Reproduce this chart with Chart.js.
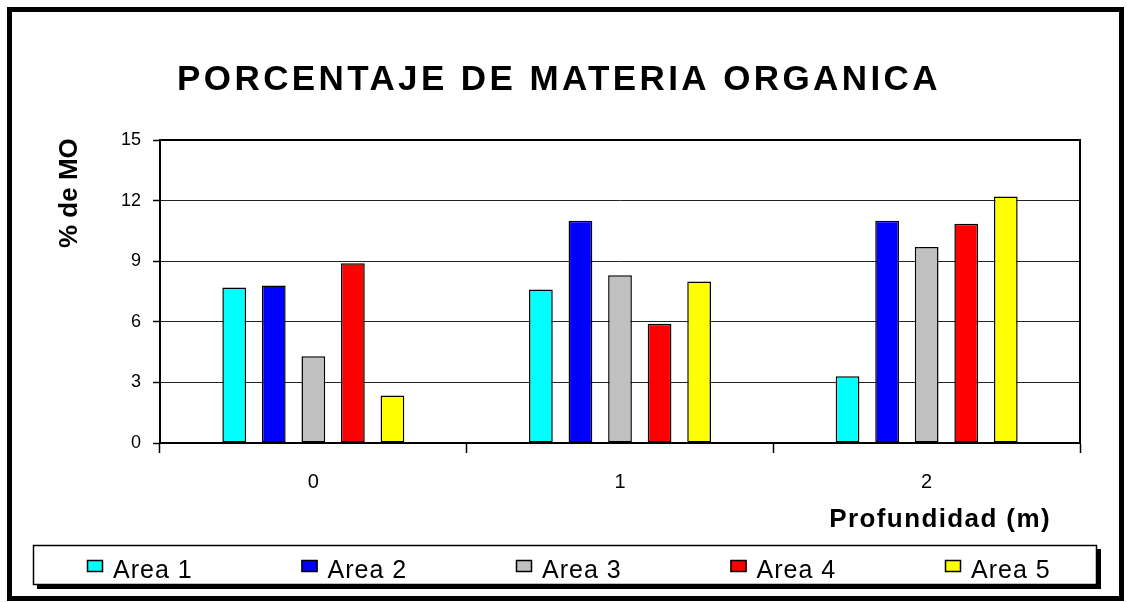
<!DOCTYPE html>
<html>
<head>
<meta charset="utf-8">
<script src="https://cdn.jsdelivr.net/npm/chart.js@4/dist/chart.umd.min.js"></script>
<style>
  body { margin: 0; background: #fff; }
  canvas { display: block; }
</style>
</head>
<body>
<canvas id="moChart" width="1127" height="602"></canvas>

<script>

var categories = ['0', '1', '2']
var seriesNames = ['Area 1', 'Area 2', 'Area 3', 'Area 4', 'Area 5']
var area1 = [7.7, 7.6, 3.3]
var area2 = [7.8, 11.0, 11.0]
var area3 = [4.3, 8.3, 9.7]
var area4 = [8.9, 5.9, 10.85]
var area5 = [2.35, 8.0, 12.2]
var yTicks = [0, 3, 6, 9, 12, 15]

var colors = ['#00ffff', '#0000ff', '#c0c0c0', '#ff0000', '#ffff00']
var values = [area1, area2, area3, area4, area5]

var FONT = '"Liberation Sans", Arial, sans-serif'

// frame, titles, plot border and legend are painted here
var decorations = {
    id: 'decorations',
    afterDraw: function (chart) {
        var ctx = chart.ctx
        var area = chart.chartArea
        ctx.save()

        // outer border
        ctx.strokeStyle = '#000'
        ctx.lineWidth = 5
        ctx.strokeRect(9.5, 9.5, 1112, 589)

        // plot frame
        ctx.lineWidth = 2
        ctx.strokeRect(area.left, area.top, area.right - area.left, area.bottom - area.top)

        ctx.fillStyle = '#000'
        // main title
        ctx.font = 'bold 35px ' + FONT
        ctx.letterSpacing = '3.4px'
        ctx.textAlign = 'center'
        ctx.textBaseline = 'alphabetic'
        ctx.fillText('PORCENTAJE DE MATERIA ORGANICA', 559, 90)

        // x axis title
        ctx.font = 'bold 26px ' + FONT
        ctx.letterSpacing = '1.4px'
        ctx.textAlign = 'right'
        ctx.fillText('Profundidad (m)', 1051, 527)

        // y axis title
        ctx.letterSpacing = '0px'
        ctx.save()
        ctx.translate(77, 248)
        ctx.rotate(-Math.PI / 2)
        ctx.textAlign = 'left'
        ctx.fillText('% de MO', 0, 0)
        ctx.restore()

        // legend box with shadow
        ctx.fillRect(37, 549, 1064, 40)
        ctx.fillStyle = '#fff'
        ctx.fillRect(33, 545, 1064, 40)
        ctx.strokeStyle = '#000'
        ctx.lineWidth = 1.5
        ctx.strokeRect(33.5, 545.5, 1063, 39)

        ctx.font = '25px ' + FONT
        ctx.letterSpacing = '1px'
        ctx.textAlign = 'left'
        chart.data.datasets.forEach(function (ds, i) {
            var x = 87 + i * 214.5
            ctx.fillStyle = ds.backgroundColor
            ctx.fillRect(x, 560, 16, 12)
            ctx.lineWidth = 1.5
            ctx.strokeStyle = '#000'
            ctx.strokeRect(x + 0.5, 560.5, 15, 11)
            ctx.fillStyle = '#000'
            ctx.fillText(ds.label, x + 26, 578)
        })
        ctx.restore()
    }
}

var datasets = seriesNames.map(function (name, i) {
    return {
        label: name,
        data: values[i],
        backgroundColor: colors[i],
        borderColor: '#000',
        borderWidth: 1.5,
        borderSkipped: false,
        categoryPercentage: 0.645,
        barPercentage: 0.6
    }
})

var chart = new Chart(document.getElementById('moChart').getContext('2d'), {
    type: 'bar',
    data: {
        labels: categories,
        datasets: datasets
    },
    options: {
        responsive: false,
        animation: false,
        events: [],
        layout: {
            padding: { top: 140, right: 47, bottom: 99, left: 0 }
        },
        plugins: {
            legend: { display: false },
            title: { display: false },
            tooltip: { enabled: false }
        },
        scales: {
            x: {
                grid: {
                    offset: true,
                    drawOnChartArea: false,
                    tickLength: 10,
                    tickWidth: 1.5,
                    color: '#000'
                },
                border: { color: '#000', width: 2 },
                ticks: {
                    color: '#000',
                    padding: 17,
                    font: { family: FONT, size: 20 }
                },
                afterFit: function (scale) { scale.height = 60 }
            },
            y: {
                min: 0,
                max: 15,
                afterBuildTicks: function (scale) {
                    scale.ticks = yTicks.map(function (v) { return { value: v } })
                },
                grid: {
                    color: '#222',
                    lineWidth: 1,
                    dash: [6, 2],
                    borderDash: [6, 2],
                    tickLength: 7,
                    tickColor: '#000',
                    tickWidth: 1.5,
                    tickBorderDash: []
                },
                border: { color: '#000', width: 2 },
                ticks: {
                    color: '#000',
                    padding: 12,
                    font: { family: FONT, size: 18 }
                },
                afterFit: function (scale) { scale.width = 160 }
            }
        }
    },
    plugins: [decorations]
})

</script>
</body>
</html>
